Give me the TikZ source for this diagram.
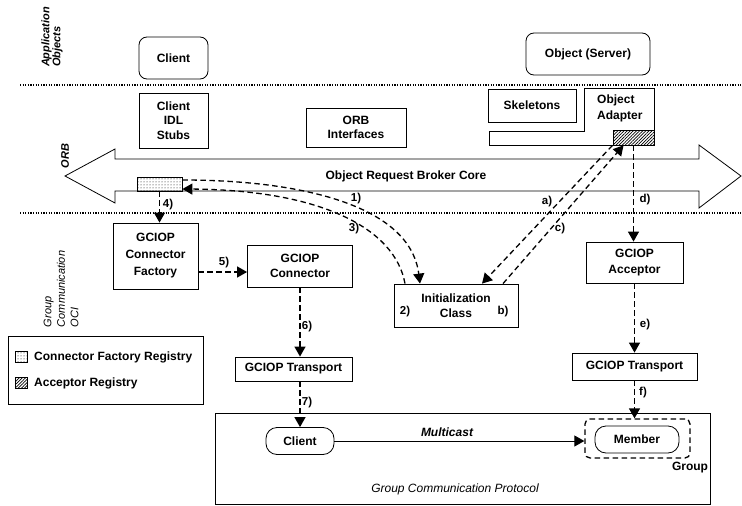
\documentclass[tikz,border=0pt]{standalone}
\usepackage{fontspec}
\setmainfont{Liberation Sans}
\usetikzlibrary{arrows.meta,patterns,patterns.meta,calc}
\begin{document}
\begin{tikzpicture}[x=1pt,y=-1pt,
  every node/.style={font=\fontsize{12}{14.5}\selectfont\bfseries, inner sep=0pt},
  box/.style={draw, line width=0.8pt, align=center},
  rbox/.style={box, rounded corners=8pt},
  pill/.style={box, rounded corners=11pt},
  lbl/.style={font=\fontsize{11.5}{13}\selectfont\bfseries},
  dar/.style={draw, line width=1.3pt, dash pattern=on 5.5pt off 3.5pt, -{Triangle[length=10pt,width=11pt]}},
  sar/.style={draw, line width=0.9pt, -{Triangle[length=10pt,width=11pt]}},
  sepline/.style={line width=1.4pt, dash pattern=on 1.2pt off 1.4pt},
  side/.style={rotate=90, align=left, font=\fontsize{11}{11}\selectfont\bfseries\itshape},
  hatch/.style={pattern={Lines[angle=45,distance=2.2pt,line width=0.7pt]}}
]
\useasboundingbox (0,0) rectangle (742,506);

% separators
\draw[sepline] (20,85) -- (742,85);
\draw[sepline] (20,213) -- (742,213);

% side labels
\node[side] (lapp) at (52,37) {Application\\Objects};
\node[side] (lorb) at (65,156) {ORB};
\node[side, font=\fontsize{11}{13.5}\selectfont\itshape] (lgc) at (61,289) {Group\\Communication\\OCI};

% application objects
\node[rbox, minimum width=69pt, minimum height=42pt] (clientApp) at (173.5,58) {Client};
\node[rbox, minimum width=124pt, minimum height=42pt] (server) at (588,54) {Object (Server)};

% ORB
\node[box, minimum width=69pt, minimum height=55pt] (stubs) at (173.5,120.5) {Client\\IDL\\Stubs};
\node[box, minimum width=100pt, minimum height=39pt] (orbif) at (356,127.5) {ORB\\Interfaces};
\node[box, minimum width=88pt, minimum height=33pt] (skel) at (532,105.5) {Skeletons};
\draw[line width=0.8pt] (489,131) -- (584,131) -- (584,88) -- (654,88) -- (654,145) -- (489,145) -- cycle;
\node[align=left, anchor=west, font=\fontsize{12}{16}\selectfont\bfseries] (adapter) at (597,108.5) {Object\\Adapter};
\node[draw, line width=0.8pt, minimum width=41pt, minimum height=15pt, hatch] (accreg) at (633.5,137.5) {};

% ORB core double arrow
\draw[line width=0.8pt] (65,176) -- (115,149) -- (115,159) -- (699,159) -- (699,145) -- (741,176)
  -- (699,208) -- (699,191) -- (115,191) -- (115,203) -- cycle;
\node (orbcore) at (406,176) {Object Request Broker Core};
\node[draw, line width=0.8pt, minimum width=45pt, minimum height=14pt, pattern=dots] (cfreg) at (159.5,184) {};

% group communication OCI
\node[box, minimum width=85pt, minimum height=66pt, font=\fontsize{12}{17}\selectfont\bfseries] (factory) at (155.5,256) {GCIOP\\Connector\\Factory};
\node[box, minimum width=105pt, minimum height=42pt, font=\fontsize{12}{15}\selectfont\bfseries] (connector) at (300,266) {GCIOP\\Connector};
\node[box, minimum width=124pt, minimum height=43pt] (init) at (456,305.5) {Initialization\\Class};
\node[box, minimum width=97pt, minimum height=41pt, font=\fontsize{12}{16}\selectfont\bfseries] (acceptor) at (634.5,262.5) {GCIOP\\Acceptor};
\node[box, minimum width=117pt, minimum height=24pt] (transL) at (293.5,369) {GCIOP Transport};
\node[box, minimum width=125pt, minimum height=27pt] (transR) at (634.5,366.5) {GCIOP Transport};

% legend
\node[box, minimum width=195pt, minimum height=68pt] (legend) at (105.5,370) {};
\node[draw, line width=0.6pt, minimum width=12pt, minimum height=11pt, pattern=dots] (lg1) at (21,357) {};
\node[anchor=west] (lt1) at (34,357) {Connector Factory Registry};
\node[draw, line width=0.6pt, minimum width=12pt, minimum height=11pt, hatch] (lg2) at (21,383) {};
\node[anchor=west] (lt2) at (34,383) {Acceptor Registry};

% group communication protocol
\node[box, minimum width=495pt, minimum height=91pt] (gcp) at (462.5,458.5) {};
\node[pill, minimum width=68pt, minimum height=27pt] (clientG) at (300,441) {Client};
\node[pill, minimum width=84pt, minimum height=27pt] (member) at (637,439.5) {Member};
\node[draw, line width=1.3pt, dash pattern=on 5.5pt off 3.5pt, rounded corners=5pt, minimum width=105pt, minimum height=39pt] (group) at (637.5,438.5) {};
\node (grouplbl) at (690,468) {Group};
\node[font=\fontsize{12}{14}\selectfont\bfseries\itshape] (mclbl) at (447,432) {Multicast};
\node[font=\fontsize{12}{14}\selectfont\itshape] (gcplbl) at (455,489) {Group Communication Protocol};

% connectors
\draw[dar] ([yshift=4pt]cfreg.east) .. controls (300,180) and (410,205) .. ([xshift=-36pt]init.north);
\draw[dar] ([xshift=-51pt]init.north) .. controls (395,228) and (320,190) .. ([yshift=-5pt]cfreg.east);
\draw[dar] ([xshift=-21pt]accreg.south) -- ([xshift=26pt]init.north);
\draw[dar] ([xshift=47pt]init.north) -- ([xshift=-10pt]accreg.south);
\draw[dar] (accreg.south) -- (accreg.south |- acceptor.north);
\draw[dar] (acceptor.south) -- (acceptor.south |- transR.north);
\draw[dar] (transR.south) -- (transR.south |- group.north);
\draw[dar] (cfreg.south) -- (cfreg.south |- factory.north);
\coordinate (c5) at ([yshift=-6pt]connector.west);
\draw[dar] (factory.east |- c5) -- (c5);
\draw[dar] (connector.south) -- (connector.south |- transL.north);
\draw[dar] (clientG.north |- transL.south) -- (clientG.north);
\draw[sar] (clientG.east) -- (clientG.east -| group.west);

% connector labels
\node[lbl] (n1) at (356,199) {1)};
\node[lbl] (n2) at (405,312) {2)};
\node[lbl] (n3) at (354,229) {3)};
\node[lbl] (n4) at (168,205) {4)};
\node[lbl] (n5) at (224,263) {5)};
\node[lbl] (n6) at (307,327) {6)};
\node[lbl] (n7) at (307,403) {7)};
\node[lbl] (na) at (547,202) {a)};
\node[lbl] (nb) at (503,312) {b)};
\node[lbl] (nc) at (560,229) {c)};
\node[lbl] (nd) at (645,200) {d)};
\node[lbl] (ne) at (645,325) {e)};
\node[lbl] (nf) at (643,393) {f)};
\end{tikzpicture}
\end{document}
